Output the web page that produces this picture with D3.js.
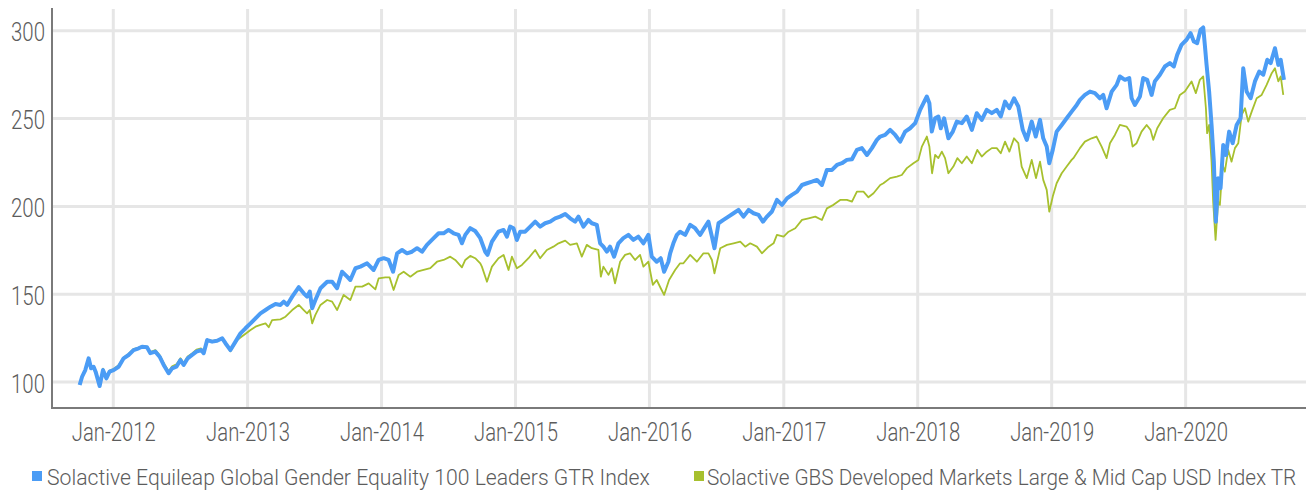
<!DOCTYPE html>
<html>
<head>
<meta charset="utf-8">
<script src="https://cdn.jsdelivr.net/npm/d3@7"></script>
<style>
  html, body { margin: 0; padding: 0; background: #fff; }
  svg { display: block; }
  text { font-family: Roboto, "Noto Sans", sans-serif; font-weight: 300; fill: #5c5c5c; }
</style>
</head>
<body>
<svg id="chart" width="1306" height="493"></svg>
<script>
// ---------- DATA ----------
const seriesNames = [
  "Solactive Equileap Global Gender Equality 100 Leaders GTR Index",
  "Solactive GBS Developed Markets Large & Mid Cap USD Index TR"
];
const seriesColors = ["#4b9cf5", "#a7c02e"];

const yTicks = [100, 150, 200, 250, 300];
const xTickYears = [2012, 2013, 2014, 2015, 2016, 2017, 2018, 2019, 2020];

// time in decimal years
const blueYears = [
2011.749,2011.767,2011.791,2011.816,2011.834,2011.853,2011.868,2011.898,2011.923,2011.948,2011.972,
2012.002,2012.040,2012.077,2012.114,2012.151,2012.189,2012.214,2012.251,2012.276,2012.313,2012.345,2012.375,2012.412,2012.438,2012.470,2012.500,2012.524,2012.554,2012.587,2012.619,2012.654,2012.673,2012.699,2012.736,2012.773,2012.811,2012.835,2012.872,2012.910,2012.947,2012.984,
2013.022,2013.059,2013.096,2013.134,2013.171,2013.208,2013.245,2013.270,2013.295,2013.333,2013.382,2013.419,2013.444,2013.464,2013.482,2013.506,2013.544,2013.594,2013.631,2013.668,2013.705,2013.743,2013.767,2013.805,2013.842,2013.892,2013.941,2013.978,
2014.016,2014.053,2014.086,2014.116,2014.153,2014.190,2014.227,2014.265,2014.302,2014.339,2014.389,2014.426,2014.463,2014.500,2014.538,2014.575,2014.600,2014.625,2014.662,2014.699,2014.737,2014.774,2014.791,2014.824,2014.873,2014.911,2014.936,2014.960,2014.985,
2015.010,2015.035,2015.072,2015.110,2015.147,2015.184,2015.221,2015.259,2015.296,2015.333,2015.371,2015.408,2015.445,2015.470,2015.507,2015.544,2015.570,2015.607,2015.632,2015.656,2015.682,2015.706,2015.736,2015.768,2015.805,2015.843,2015.880,2015.917,2015.955,2015.992,
2016.017,2016.054,2016.084,2016.109,2016.141,2016.154,2016.178,2016.204,2016.228,2016.266,2016.303,2016.340,2016.377,2016.415,2016.439,2016.465,2016.484,2016.514,2016.551,2016.588,2016.626,2016.663,2016.700,2016.738,2016.775,2016.812,2016.845,2016.875,2016.912,2016.949,2016.987,
2017.024,2017.061,2017.099,2017.136,2017.173,2017.210,2017.248,2017.285,2017.322,2017.360,2017.397,2017.434,2017.471,2017.509,2017.546,2017.583,2017.621,2017.658,2017.695,2017.720,2017.757,2017.794,2017.832,2017.869,2017.906,2017.943,2017.981,
2018.018,2018.043,2018.068,2018.087,2018.105,2018.130,2018.154,2018.172,2018.197,2018.229,2018.262,2018.292,2018.329,2018.366,2018.404,2018.441,2018.478,2018.515,2018.553,2018.590,2018.620,2018.652,2018.684,2018.719,2018.751,2018.784,2018.814,2018.851,2018.881,2018.913,2018.937,2018.963,2018.982,
2019.008,2019.037,2019.075,2019.112,2019.149,2019.187,2019.211,2019.248,2019.286,2019.323,2019.360,2019.385,2019.410,2019.448,2019.485,2019.509,2019.547,2019.579,2019.597,2019.621,2019.659,2019.683,2019.713,2019.746,2019.770,2019.808,2019.845,2019.882,2019.912,2019.937,2019.969,
2020.007,2020.037,2020.061,2020.086,2020.111,2020.131,2020.143,2020.156,2020.175,2020.193,2020.210,2020.225,2020.242,2020.260,2020.280,2020.300,2020.324,2020.350,2020.380,2020.409,2020.429,2020.454,2020.484,2020.516,2020.548,2020.578,2020.608,2020.633,2020.665,2020.690,2020.708,2020.732
];
const blueValues = [
98.3,103,106.8,113.5,107.8,108.7,105.9,97.7,106.8,102.1,105.9,
106.8,108.7,113.5,115.4,118.2,119.2,120.1,119.8,116.4,117.3,114.4,109.7,105,107.8,108.7,112.5,109.7,113.5,115.4,117.3,118.2,116.4,123.9,123,123.5,124.9,122.1,118.2,123,127.7,130.6,
133.4,136.3,139.1,141,142.9,144.4,143.9,145.8,143.9,148.6,154,150.5,148.6,151.5,142,146.7,153.4,157.1,157.1,153.4,162.8,160,158.1,164.8,165.7,167.6,163.8,169.5,
170.5,169.5,162.8,173.3,175.2,173.3,174.2,176.2,174.2,178.1,181.9,184.7,184.7,186.6,184.7,183.8,179,183.8,187.6,186,181.9,174.2,172.4,179.9,185.6,186.6,182.8,188.5,187.6,
180.9,185.6,185.6,188.5,191.3,188.5,190.4,191.3,193.2,194.2,195.7,193.2,191.3,194.2,188.5,192.3,190.4,189.5,179,177.1,174.2,177.1,171.4,179,181.9,183.8,180.9,182.8,179,183.8,
171.4,168.5,170.5,162.8,168.5,173.3,179,183.8,185.6,183.8,189.5,187.6,183.8,188.5,191.3,182.8,176.2,190.4,192.3,194.2,196.1,198,194.2,198,196.1,195.2,191.3,194.2,197.1,203.7,200.9,
204.6,206.6,208.4,212.2,213.2,214.1,215.1,212.2,220.8,220.8,223.6,224.6,226.5,226.9,232.2,233.2,229.3,233.2,237.9,239.8,240.7,243.6,240.7,236.9,242.6,244.5,247.4,
255,258.8,262.6,258.8,242.6,250.2,251.2,244.5,250.2,238.8,242.6,248.3,247.4,251.2,243.6,253.1,249.3,255,253.1,255,251.2,259.7,255.9,261.6,256.9,243.6,237.9,248.3,239.8,249.3,238.8,234.1,224.6,
232.2,242.6,246.4,250.2,254,257.8,260.7,263.5,265.4,264.5,261.6,263.5,255.9,265.4,269.2,274,272.1,273.1,261.6,257.8,262.6,273.1,272.1,263.5,271.2,275,279.7,281.6,279.7,286.3,292,
294.9,298.7,293.9,293,300.6,301.9,292,280.6,265.4,246.4,225.5,191.3,216.1,210.4,235,229.3,242.6,236,246.4,250.2,278.7,265.4,261.6,271.2,276.8,275,283.5,281.6,290.1,280.6,283.5,272.1
];

const greenYears = [
2011.749,2011.767,2011.791,2011.816,2011.834,2011.853,2011.868,2011.898,2011.923,2011.948,2011.972,
2012.002,2012.040,2012.077,2012.114,2012.151,2012.189,2012.214,2012.251,2012.276,2012.313,2012.345,2012.375,2012.412,2012.438,2012.470,2012.500,2012.524,2012.554,2012.587,2012.619,2012.654,2012.673,2012.699,2012.736,2012.773,2012.811,2012.835,2012.872,2012.922,2012.972,
2013.022,2013.059,2013.096,2013.134,2013.158,2013.183,2013.245,2013.283,2013.333,2013.382,2013.419,2013.444,2013.464,2013.482,2013.506,2013.544,2013.594,2013.631,2013.668,2013.717,2013.767,2013.805,2013.855,2013.904,2013.954,2013.978,
2014.028,2014.060,2014.090,2014.128,2014.165,2014.215,2014.265,2014.314,2014.364,2014.414,2014.463,2014.513,2014.550,2014.600,2014.625,2014.662,2014.699,2014.737,2014.749,2014.787,2014.824,2014.873,2014.911,2014.948,2014.973,
2015.010,2015.048,2015.097,2015.147,2015.184,2015.234,2015.283,2015.321,2015.371,2015.408,2015.458,2015.495,2015.532,2015.570,2015.619,2015.637,2015.656,2015.694,2015.719,2015.743,2015.781,2015.818,2015.855,2015.893,2015.930,2015.955,2015.992,
2016.025,2016.054,2016.084,2016.109,2016.146,2016.191,2016.228,2016.253,2016.303,2016.353,2016.402,2016.439,2016.465,2016.484,2016.527,2016.577,2016.626,2016.676,2016.713,2016.750,2016.800,2016.837,2016.887,2016.924,2016.949,2016.999,
2017.036,2017.086,2017.136,2017.185,2017.235,2017.285,2017.322,2017.371,2017.421,2017.471,2017.509,2017.546,2017.595,2017.632,2017.670,2017.720,2017.744,2017.794,2017.844,2017.881,2017.919,2017.968,
2018.005,2018.031,2018.068,2018.087,2018.107,2018.130,2018.154,2018.180,2018.204,2018.229,2018.266,2018.296,2018.329,2018.366,2018.404,2018.445,2018.478,2018.515,2018.553,2018.590,2018.620,2018.652,2018.684,2018.719,2018.751,2018.776,2018.814,2018.851,2018.883,2018.913,2018.937,2018.963,2018.982,
2019.008,2019.037,2019.075,2019.112,2019.149,2019.162,2019.211,2019.248,2019.298,2019.335,2019.373,2019.410,2019.435,2019.472,2019.509,2019.559,2019.584,2019.604,2019.634,2019.671,2019.709,2019.738,2019.758,2019.788,2019.832,2019.882,2019.920,2019.957,2019.994,
2020.044,2020.076,2020.106,2020.131,2020.151,2020.160,2020.175,2020.193,2020.205,2020.223,2020.242,2020.255,2020.275,2020.292,2020.317,2020.342,2020.367,2020.392,2020.417,2020.442,2020.466,2020.492,2020.529,2020.566,2020.603,2020.641,2020.665,2020.690,2020.708,2020.727
];
const greenValues = [
98.8,103.2,107,112.8,108.2,109,106.4,98.5,107.6,103,106.5,
107.4,109.5,114,116,118.8,119.6,120.5,120.2,117.1,118.2,115.3,110.8,106,109,110,113.5,110.8,114.5,116.3,118.4,119.1,117.3,124.1,123.4,123.8,124.6,122,117.5,123.9,126.8,
129.6,131.5,132.5,133.4,131.2,135.3,135.7,137.2,141,143.9,141,139.1,141,133.4,138.2,143.9,146.7,145.8,141,149.6,146.7,154.3,154.3,156.2,152.8,159,
159.6,159.6,152.4,161,162.8,160,162.8,163.8,164.8,168.5,169.5,171.4,169.5,165.3,169.5,171.8,170.5,167.6,165.7,157.1,165.7,170.5,172.4,163.8,171.4,
164.8,166.7,170.5,175.2,170.5,175.2,177.1,179,180.5,178.1,179,171.4,178.1,176.2,175.2,160,165.7,161,164.8,156.2,168.5,172.4,173.3,169.5,172.4,165.7,168.5,
155.3,158.1,153.4,149.6,158.1,163.8,167.6,167.6,172.4,168.5,173.3,173.3,169.5,161.9,176.2,178.1,179,179.9,177.1,179,177.1,173.3,177.1,179,183.8,182.8,
185.6,187.6,192.3,193.2,194.2,192.3,198.9,200.9,203.7,203.7,202.7,208.4,208.4,205.2,207.5,212.2,213.2,216.1,217,217.9,221.8,224.6,
226.5,234.1,239.8,234.1,218.9,229.3,227.5,231.2,227.5,218.9,222.7,227.5,224.6,228.4,224.6,232.2,228.4,231.2,233.2,233.2,230.3,236.9,231.2,238.8,236,222.7,216.1,226.5,216.1,225.5,215.1,209.4,197,
205.6,213.2,218.9,222.7,226.5,227.5,233.2,236.9,238.8,239.8,234.1,227.5,236,240.7,246.4,245.5,242.6,234.1,236,242.6,246.4,243.6,237.9,244.5,250.2,255,255.9,263.5,265.4,
271.2,264.5,272.1,274,255.9,241.7,246.4,225.5,202.7,180.9,202.7,200.9,223.6,219.8,232.2,225.5,233.2,236,252.1,255.9,248.3,254,261.6,263.5,269.2,275.9,278.7,271.2,274,263.5
];

// ---------- HELPERS ----------
function yearToDate(t) {
  const y = Math.floor(t);
  const s = new Date(y, 0, 1), e = new Date(y + 1, 0, 1);
  return new Date(+s + (t - y) * (e - s));
}
const blueData = blueYears.map((t, i) => ({ date: yearToDate(t), value: blueValues[i] }));
const greenData = greenYears.map((t, i) => ({ date: yearToDate(t), value: greenValues[i] }));

// ---------- LAYOUT ----------
const svg = d3.select("#chart");
const plot = { left: 52, right: 1306, top: 8, bottom: 408 };

const x = d3.scaleTime()
  .domain([new Date(2011, 6, 18), new Date(2020, 10, 24)])
  .range([plot.left, plot.right]);
const y = d3.scaleLinear()
  .domain([85.2, 313])
  .range([plot.bottom, plot.top]);

const fmt = d3.timeFormat("%b-%Y");
const xTickDates = xTickYears.map(yr => new Date(yr, 0, 1));

// gridlines
const grid = svg.append("g").attr("class", "grid");
grid.selectAll("line.h").data(yTicks).join("line")
  .attr("class", "h")
  .attr("x1", plot.left + 1).attr("x2", plot.right)
  .attr("y1", d => y(d)).attr("y2", d => y(d))
  .attr("stroke", "#e6e6e6").attr("stroke-width", 3);
grid.selectAll("line.v").data(xTickDates).join("line")
  .attr("class", "v")
  .attr("x1", d => x(d)).attr("x2", d => x(d))
  .attr("y1", plot.top + 1).attr("y2", plot.bottom)
  .attr("stroke", "#e6e6e6").attr("stroke-width", 3);

// lines
const line = d3.line().x(d => x(d.date)).y(d => y(d.value));
svg.append("path").datum(greenData)
  .attr("d", line).attr("fill", "none")
  .attr("stroke", seriesColors[1]).attr("stroke-width", 1.8)
  .attr("stroke-linejoin", "round");
svg.append("path").datum(blueData)
  .attr("d", line).attr("fill", "none")
  .attr("stroke", seriesColors[0]).attr("stroke-width", 4)
  .attr("stroke-linejoin", "round");

// axes
const yAxis = svg.append("g")
  .attr("transform", `translate(${plot.left},0)`)
  .call(d3.axisLeft(y).tickValues(yTicks).tickSize(0).tickPadding(7));
yAxis.select(".domain").remove();
yAxis.selectAll("text")
  .attr("dy", "0.4em")
  .style("font-size", "25px")
  .attr("textLength", 34).attr("lengthAdjust", "spacingAndGlyphs");

const xAxis = svg.append("g")
  .attr("transform", `translate(0,${plot.bottom})`)
  .call(d3.axisBottom(x).tickValues(xTickDates).tickFormat(fmt).tickSize(0));
xAxis.select(".domain").remove();
xAxis.selectAll("text")
  .attr("y", 33).attr("dy", 0)
  .style("font-size", "25px")
  .attr("textLength", 84).attr("lengthAdjust", "spacingAndGlyphs");

svg.append("line")
  .attr("x1", plot.left).attr("x2", plot.left)
  .attr("y1", plot.top).attr("y2", plot.bottom + 1)
  .attr("stroke", "#7a7a7a").attr("stroke-width", 2);
svg.append("line")
  .attr("x1", plot.left - 1).attr("x2", plot.right)
  .attr("y1", plot.bottom).attr("y2", plot.bottom)
  .attr("stroke", "#7a7a7a").attr("stroke-width", 2);

// legend (text compressed horizontally with a transform so its real box is its drawn box)
const legendItems = [
  { name: seriesNames[0], color: seriesColors[0], sx: 32, tx: 47, w: 603 },
  { name: seriesNames[1], color: seriesColors[1], sx: 694, tx: 707, w: 590 }
];
const lg = svg.append("g").attr("class", "legend");
lg.selectAll("rect").data(legendItems).join("rect")
  .attr("x", d => d.sx).attr("y", 471).attr("width", 10).attr("height", 10)
  .attr("fill", d => d.color);
lg.selectAll("text").data(legendItems).join("text")
  .attr("x", 0).attr("y", 0)
  .style("font-size", "22px")
  .text(d => d.name)
  .each(function (d) {
    const len = this.getComputedTextLength();
    const s = len > 0 ? d.w / len : 1;
    d3.select(this).attr("transform", `translate(${d.tx},485) scale(${s},1)`);
  });
</script>
</body>
</html>
